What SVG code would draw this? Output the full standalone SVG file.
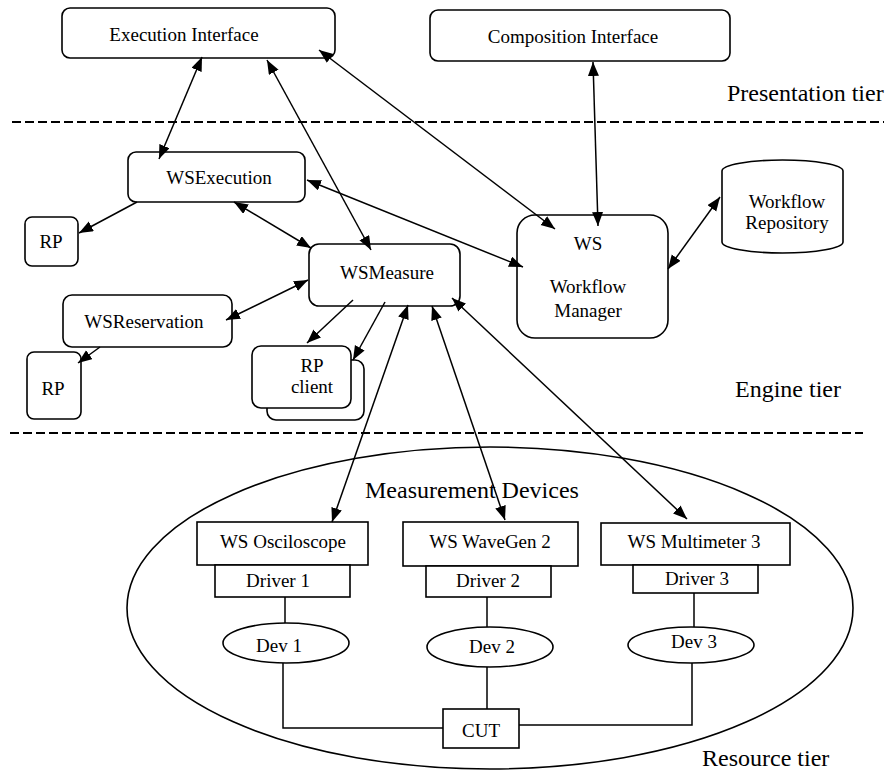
<svg xmlns="http://www.w3.org/2000/svg" width="888" height="773" viewBox="0 0 888 773">
<defs>
<style>
.box{fill:#fff;stroke:#000;stroke-width:1.6}
.t{font-family:"Liberation Serif","Times New Roman",serif;font-size:19px;fill:#000;text-anchor:middle}
.tier{font-family:"Liberation Serif","Times New Roman",serif;font-size:24px;fill:#000}
.ln{fill:none;stroke:#000;stroke-width:1.5}
.dash{fill:none;stroke:#000;stroke-width:2;stroke-dasharray:9 4}
.a2{marker-start:url(#ah);marker-end:url(#ah)}
.a1{marker-end:url(#ah)}
</style>
<marker id="ah" markerUnits="userSpaceOnUse" markerWidth="15" markerHeight="12" refX="14" refY="5.5" orient="auto-start-reverse">
<path d="M0,0 L14,5.5 L0,11 Z" fill="#000"/>
</marker>
</defs>
<rect width="888" height="773" fill="#fff"/>

<g id="tiers">
<line class="dash" x1="12" y1="122" x2="884" y2="122"/>
<line class="dash" x1="10" y1="433" x2="863" y2="433"/>
<text class="tier" x="727" y="101">Presentation tier</text>
<text class="tier" x="735" y="397">Engine tier</text>
<text class="tier" x="702" y="766">Resource tier</text>
</g>

<g id="measurement-devices">
<ellipse cx="490" cy="608" rx="363" ry="161" fill="none" stroke="#000" stroke-width="1.6"/>
<text class="tier" x="365" y="498">Measurement Devices</text>
</g>

<g id="execution-interface">
<rect class="box" x="62" y="8" width="273" height="50" rx="8"/>
<text class="t" x="184" y="41">Execution Interface</text>
</g>
<g id="composition-interface">
<rect class="box" x="430" y="10" width="300" height="51" rx="8"/>
<text class="t" x="573" y="43">Composition Interface</text>
</g>
<g id="ws-execution">
<rect class="box" x="128" y="152" width="177" height="50" rx="8"/>
<text class="t" x="219" y="184">WSExecution</text>
</g>
<g id="rp1">
<rect class="box" x="25" y="217" width="53" height="49" rx="7"/>
<text class="t" x="51" y="248">RP</text>
</g>
<g id="ws-measure">
<rect class="box" x="309" y="244" width="151" height="62" rx="10"/>
<text class="t" x="387" y="279">WSMeasure</text>
</g>
<g id="ws-reservation">
<rect class="box" x="63" y="295" width="169" height="52" rx="9"/>
<text class="t" x="144" y="328">WSReservation</text>
</g>
<g id="rp2">
<rect class="box" x="27" y="352" width="54" height="67" rx="7"/>
<text class="t" x="53" y="395">RP</text>
</g>
<g id="rp-client">
<rect class="box" x="267" y="360" width="97" height="60" rx="9"/>
<rect class="box" x="252" y="346" width="99" height="62" rx="9"/>
<text class="t" x="312" y="372">RP</text>
<text class="t" x="312" y="393">client</text>
</g>
<g id="ws-workflow-manager">
<rect class="box" x="517" y="215" width="151" height="123" rx="18"/>
<text class="t" x="588" y="250">WS</text>
<text class="t" x="588" y="293">Workflow</text>
<text class="t" x="588" y="317">Manager</text>
</g>
<g id="workflow-repository">
<path class="box" d="M722,171 A60.5,11 0 0 1 843,171 L843,242 A60.5,11 0 0 1 722,242 Z"/>
<text class="t" x="787" y="208">Workflow</text>
<text class="t" x="787" y="229">Repository</text>
</g>

<g id="ws-osciloscope">
<rect class="box" x="197" y="522" width="171" height="43"/>
<text class="t" x="283" y="548">WS Osciloscope</text>
</g>
<g id="driver1">
<rect class="box" x="215" y="565" width="135" height="32"/>
<text class="t" x="278" y="587">Driver 1</text>
</g>
<g id="dev1">
<ellipse class="box" cx="286" cy="643" rx="63" ry="20"/>
<text class="t" x="279" y="652">Dev 1</text>
</g>
<g id="ws-wavegen2">
<rect class="box" x="403" y="522" width="175" height="44"/>
<text class="t" x="490" y="548">WS WaveGen 2</text>
</g>
<g id="driver2">
<rect class="box" x="426" y="566" width="125" height="31"/>
<text class="t" x="488" y="587">Driver 2</text>
</g>
<g id="dev2">
<ellipse class="box" cx="490" cy="647" rx="63" ry="20"/>
<text class="t" x="492" y="653">Dev 2</text>
</g>
<g id="ws-multimeter3">
<rect class="box" x="601" y="523" width="189" height="42"/>
<text class="t" x="694" y="548">WS Multimeter 3</text>
</g>
<g id="driver3">
<rect class="box" x="633" y="565" width="125" height="28"/>
<text class="t" x="697" y="585">Driver 3</text>
</g>
<g id="dev3">
<ellipse class="box" cx="691" cy="645" rx="63" ry="18"/>
<text class="t" x="694" y="648">Dev 3</text>
</g>
<g id="cut">
<rect class="box" x="443" y="709" width="76" height="39"/>
<text class="t" x="481" y="737">CUT</text>
</g>

<g id="connectors">
<line class="ln a2" x1="202" y1="57" x2="159" y2="159"/>
<line class="ln a2" x1="267" y1="60" x2="371" y2="250"/>
<line class="ln a2" x1="319" y1="50" x2="555" y2="229"/>
<line class="ln a2" x1="593" y1="62" x2="598" y2="226"/>
<line class="ln a2" x1="307" y1="180" x2="523" y2="267"/>
<line class="ln a2" x1="234" y1="202" x2="311" y2="248"/>
<line class="ln a2" x1="226" y1="320" x2="308" y2="280"/>
<line class="ln a1" x1="137" y1="202" x2="79" y2="233"/>
<line class="ln a1" x1="100" y1="347" x2="78" y2="363"/>
<line class="ln a1" x1="353" y1="300" x2="307" y2="343"/>
<line class="ln a1" x1="385" y1="302" x2="353" y2="360"/>
<line class="ln a2" x1="408" y1="305" x2="332" y2="522"/>
<line class="ln a2" x1="432" y1="306" x2="505" y2="520"/>
<line class="ln a2" x1="452" y1="298" x2="687" y2="519"/>
<line class="ln a2" x1="668" y1="269" x2="720" y2="197"/>
<line class="ln" x1="285" y1="597" x2="285" y2="623"/>
<line class="ln" x1="487" y1="597" x2="487" y2="627"/>
<line class="ln" x1="694" y1="593" x2="694" y2="627"/>
<polyline class="ln" points="283,663 283,728 443,728"/>
<line class="ln" x1="487" y1="667" x2="487" y2="709"/>
<polyline class="ln" points="692,663 692,725 519,725"/>
</g>
</svg>
